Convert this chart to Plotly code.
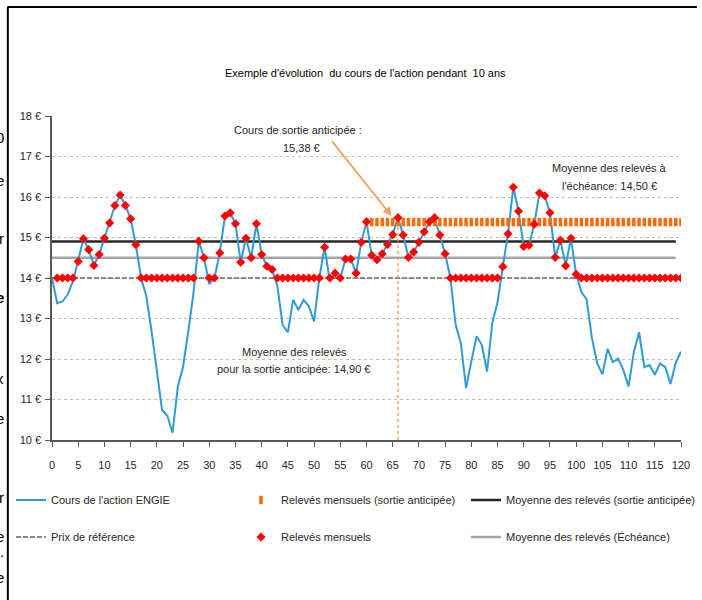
import plotly.graph_objects as go

# ---------------- data ----------------
months = list(range(0, 121))
price = [14.00, 13.38, 13.42, 13.59, 13.92, 14.41, 14.97, 14.70, 14.31, 14.58,
         14.98, 15.36, 15.79, 16.05, 15.79, 15.46, 14.82, 14.00, 13.55, 12.68,
         11.69, 10.74, 10.60, 10.18, 11.31, 11.81, 12.68, 13.63, 14.91, 14.50,
         13.85, 14.00, 14.62, 15.53, 15.61, 15.34, 14.39, 14.98, 14.50, 15.34,
         14.58, 14.29, 14.21, 13.80, 12.84, 12.66, 13.46, 13.21, 13.46, 13.30,
         12.93, 14.00, 14.76, 13.92, 14.12, 14.00, 14.47, 14.47, 14.12, 14.88,
         15.39, 14.56, 14.45, 14.60, 14.83, 15.07, 15.49, 15.06, 14.51, 14.64,
         14.88, 15.14, 15.39, 15.49, 15.06, 14.60, 14.00, 12.85, 12.39, 11.28,
         11.94, 12.56, 12.35, 11.69, 12.89, 13.40, 14.28, 15.09, 16.24, 15.65,
         14.78, 14.81, 15.33, 16.10, 16.03, 15.61, 14.51, 14.93, 14.30, 14.98,
         14.09, 13.65, 13.47, 12.52, 11.90, 11.62, 12.25, 11.92, 12.01, 11.73,
         11.32, 12.17, 12.66, 11.80, 11.85, 11.61, 11.89, 11.80, 11.38, 11.91,
         12.18]

releve_months = list(range(1, 121))
releves = [14.00, 14.00, 14.00, 14.00, 14.41, 14.97, 14.70, 14.31, 14.58, 14.98,
           15.36, 15.79, 16.05, 15.79, 15.46, 14.82, 14.00, 14.00, 14.00, 14.00,
           14.00, 14.00, 14.00, 14.00, 14.00, 14.00, 14.00, 14.91, 14.50, 14.00,
           14.00, 14.62, 15.53, 15.61, 15.34, 14.39, 14.98, 14.50, 15.34, 14.58,
           14.29, 14.21, 14.00, 14.00, 14.00, 14.00, 14.00, 14.00, 14.00, 14.00,
           14.00, 14.76, 14.00, 14.12, 14.00, 14.47, 14.47, 14.12, 14.88, 15.39,
           14.56, 14.45, 14.60, 14.83, 15.07, 15.49, 15.06, 14.51, 14.64, 14.88,
           15.14, 15.39, 15.49, 15.06, 14.60, 14.00, 14.00, 14.00, 14.00, 14.00,
           14.00, 14.00, 14.00, 14.00, 14.00, 14.28, 15.09, 16.24, 15.65, 14.78,
           14.81, 15.33, 16.10, 16.03, 15.61, 14.51, 14.93, 14.30, 14.98, 14.09,
           14.00, 14.00, 14.00, 14.00, 14.00, 14.00, 14.00, 14.00, 14.00, 14.00,
           14.00, 14.00, 14.00, 14.00, 14.00, 14.00, 14.00, 14.00, 14.00, 14.00]

anticip_months = list(range(60, 121))
anticip_value = 15.38
ref_price = 14.00
moyenne_anticipee = 14.90
moyenne_echeance = 14.50
avg_months = list(range(0, 120))
exit_month = 66
exit_line_top = 15.45

y_ticks = [10, 11, 12, 13, 14, 15, 16, 17, 18]
y_tick_labels = ["10 €", "11 €", "12 €", "13 €", "14 €", "15 €", "16 €", "17 €", "18 €"]
x_ticks = list(range(0, 121, 5))

# ---------------- layout helpers ----------------
W, H = 702, 600
L, R, T, B = 52, 16, 116, 160
PW, PH = W - L - R, H - T - B
FONT = "Liberation Sans, Arial, sans-serif"
TXT = "#262626"


def px_x(p):
    return (p - L) / PW


def px_y(p):
    return (H - B - p) / PH


fig = go.Figure()

fig.add_trace(go.Scatter(x=months, y=[ref_price] * len(months), mode="lines",
                         name="Prix de référence", legend="legend4",
                         line=dict(color="#9A8572", width=2, dash="5px,2px")))
fig.add_trace(go.Scatter(x=avg_months, y=[moyenne_echeance] * len(avg_months), mode="lines",
                         name="Moyenne des relevés (Échéance)", legend="legend6",
                         line=dict(color="#A6A6A6", width=2.5)))
fig.add_trace(go.Scatter(x=avg_months, y=[moyenne_anticipee] * len(avg_months), mode="lines",
                         name="Moyenne des relevés (sortie anticipée)", legend="legend3",
                         line=dict(color="#262626", width=2.5)))
fig.add_trace(go.Scatter(x=[exit_month, exit_month], y=[10, exit_line_top], mode="lines",
                         showlegend=False, hoverinfo="skip",
                         line=dict(color="#F68B3C", width=1.2, dash="3px,3px")))
fig.add_trace(go.Scatter(x=months, y=price, mode="lines",
                         name="Cours de l'action ENGIE", legend="legend",
                         line=dict(color="#2E9BD6", width=2)))
fig.add_trace(go.Scatter(x=anticip_months, y=[anticip_value] * len(anticip_months), mode="markers",
                         name="Relevés mensuels (sortie anticipée)", legend="legend2",
                         marker=dict(symbol="line-ns", size=6, color="#FF6A00",
                                     line=dict(width=3.5, color="#FF6A00"))))
fig.add_trace(go.Scatter(x=releve_months, y=releves, mode="markers",
                         name="Relevés mensuels", legend="legend5",
                         marker=dict(symbol="diamond", size=7, color="#FF0000",
                                     line=dict(width=0))))

ann_font = dict(family=FONT, size=11, color=TXT)


def label(cx, cy, text, font=None):
    return dict(x=px_x(cx), y=px_y(cy), xref="paper", yref="paper", showarrow=False,
                xanchor="center", yanchor="middle", text=text, font=font or ann_font)


annotations = [
    label(368, 73, "Exemple d'évolution  du cours de l'action pendant  10 ans",
          dict(family=FONT, size=11, color="#000000")),
    label(300, 130, "Cours de sortie anticipée :"),
    label(303, 148, "15,38 €"),
    label(614, 168, "Moyenne des relevés à"),
    label(614, 186, "l'échéance: 14,50 €"),
    label(296, 352, "Moyenne des relevés"),
    label(296, 369, "pour la sortie anticipée: 14,90 €"),
    dict(x=64.8, y=15.53, ax=53.2, ay=17.41, xref="x", yref="y", axref="x", ayref="y",
         showarrow=True, arrowhead=2, arrowsize=1, arrowwidth=1.8, arrowcolor="#F5A05A", text=""),
]

# cut-off letters at the left edge of the page
left_letters = [("0", 137, False), ("e", 180, False), ("r", 238, False), ("e", 297, True),
                ("x", 378, False), ("e", 418, False), ("r", 497, False), ("e", 536, False),
                (".", 551, False), ("e", 577, False)]
for ch, yy, bold in left_letters:
    annotations.append(dict(x=px_x(6), y=px_y(yy), xref="paper", yref="paper", showarrow=False,
                            xanchor="right", yanchor="middle",
                            text=("<b>%s</b>" % ch) if bold else ch,
                            font=dict(family=FONT, size=15, color="#000000")))

shapes = [
    dict(type="line", xref="paper", yref="paper", x0=px_x(7), x1=px_x(702),
         y0=px_y(7), y1=px_y(7), line=dict(color="#000000", width=2)),
    dict(type="line", xref="paper", yref="paper", x0=px_x(7.5), x1=px_x(7.5),
         y0=px_y(7), y1=px_y(600), line=dict(color="#000000", width=2)),
]


def legend_at(px_left, px_mid):
    return dict(orientation="h", xref="container", yref="container",
                x=px_left / W, y=1 - px_mid / H,
                xanchor="left", yanchor="middle", bgcolor="rgba(0,0,0,0)",
                font=dict(family=FONT, size=11, color=TXT), itemwidth=30)


fig.update_layout(
    width=W, height=H,
    margin=dict(l=L, r=R, t=T, b=B, pad=0),
    paper_bgcolor="white", plot_bgcolor="white",
    showlegend=True,
    legend=legend_at(11, 500),
    legend2=legend_at(241, 500),
    legend3=legend_at(466, 500),
    legend4=legend_at(11, 537),
    legend5=legend_at(241, 537),
    legend6=legend_at(466, 537),
    xaxis=dict(range=[0, 120], tickvals=x_ticks, ticks="outside", ticklen=5,
               tickcolor="#595959", showline=True, linecolor="#595959", linewidth=1.5,
               showgrid=False, zeroline=False, ticklabelstandoff=9,
               tickfont=dict(family=FONT, size=11, color=TXT)),
    yaxis=dict(range=[10, 18], tickvals=y_ticks, ticktext=y_tick_labels,
               ticks="outside", ticklen=5,
               tickcolor="#595959", showline=True, linecolor="#595959", linewidth=1.5,
               showgrid=True, gridcolor="#BFBFBF", griddash="dot", gridwidth=1,
               zeroline=False, ticklabelstandoff=2,
               tickfont=dict(family=FONT, size=11, color=TXT)),
    annotations=annotations,
    shapes=shapes,
)

fig.write_html("out.html", config={"displayModeBar": False},
               post_script="document.body.style.margin='0px';")
